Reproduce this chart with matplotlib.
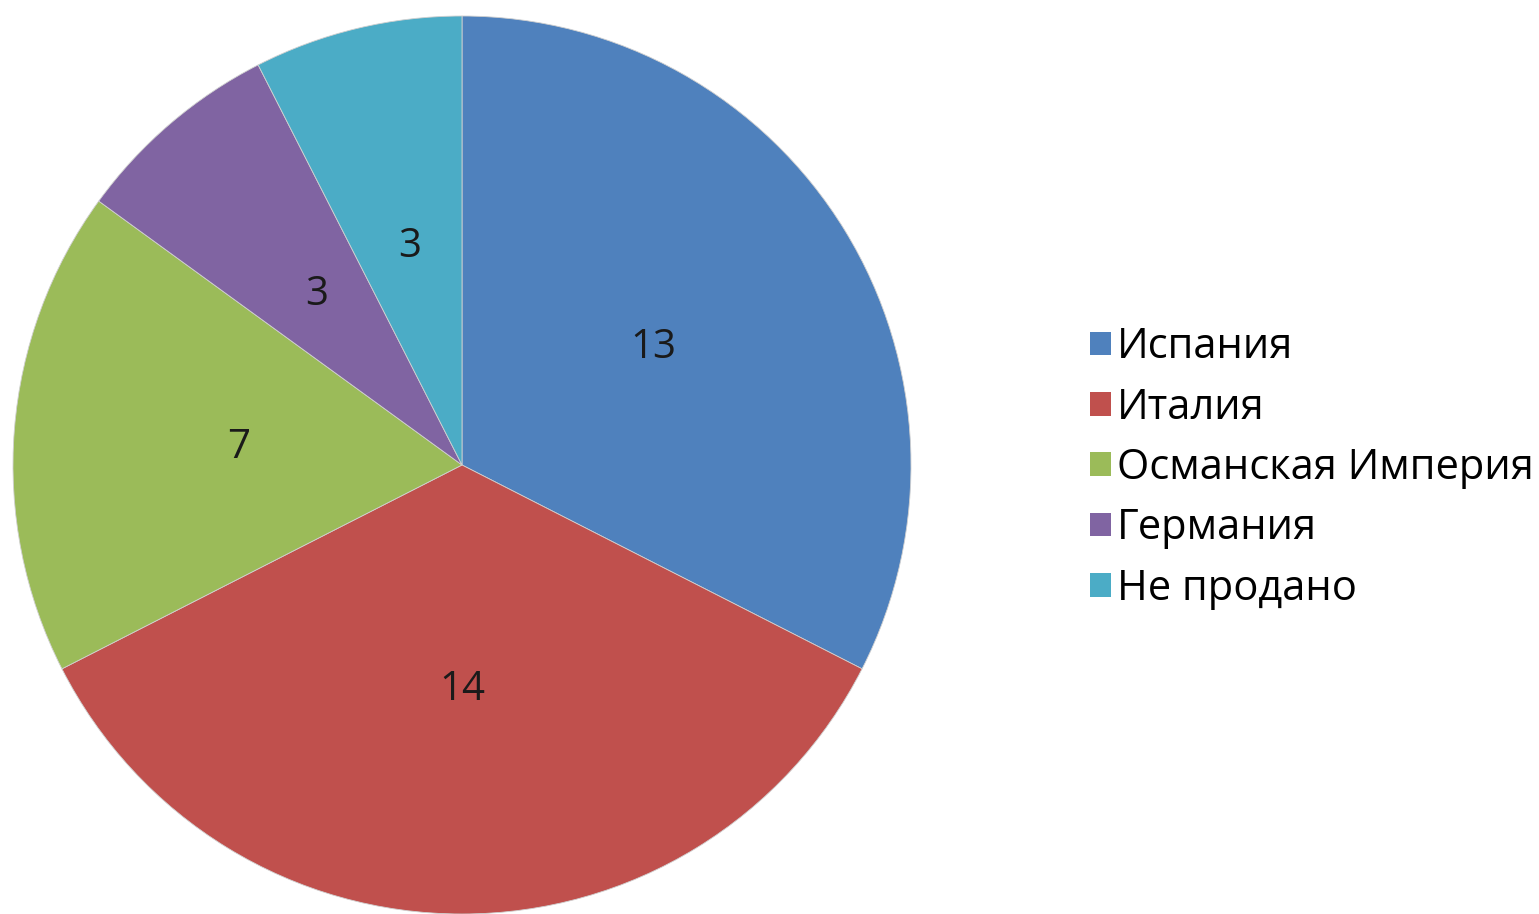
import matplotlib.pyplot as plt
from matplotlib.patches import Patch

# данные
labels = ['Испания', 'Италия', 'Османская Империя', 'Германия', 'Не продано']
values = [13, 14, 7, 3, 3]
colors = ['#4F81BD', '#C0504D', '#9BBB59', '#8064A2', '#4BACC6']

plt.rcParams['font.family'] = ['Open Sans', 'DejaVu Sans']

fig = plt.figure(figsize=(15.39, 9.14), dpi=100)
ax = fig.add_axes([13 / 1539, 0.0, 898 / 1539, 898 / 914])

ax.pie(values, colors=colors, startangle=90, counterclock=False,
       autopct=lambda p: '%d' % round(p * sum(values) / 100),
       pctdistance=0.5, radius=1,
       wedgeprops=dict(linewidth=0.6, edgecolor='#d0d0d0'),
       textprops=dict(fontsize=29, color='#1a1a1a'))
ax.set_xlim(-1, 1)
ax.set_ylim(-1, 1)
ax.set_aspect('equal')

handles = [Patch(facecolor=c, edgecolor='none') for c in colors]
fig.legend(handles, labels, loc='center left',
           bbox_to_anchor=(1090 / 1539, (914 - 468) / 914),
           frameon=False, fontsize=30, handlelength=0.5, handleheight=0.5,
           handletextpad=0.15, labelspacing=0.44, borderaxespad=0, borderpad=0)

fig.savefig('out.png', dpi=100)
